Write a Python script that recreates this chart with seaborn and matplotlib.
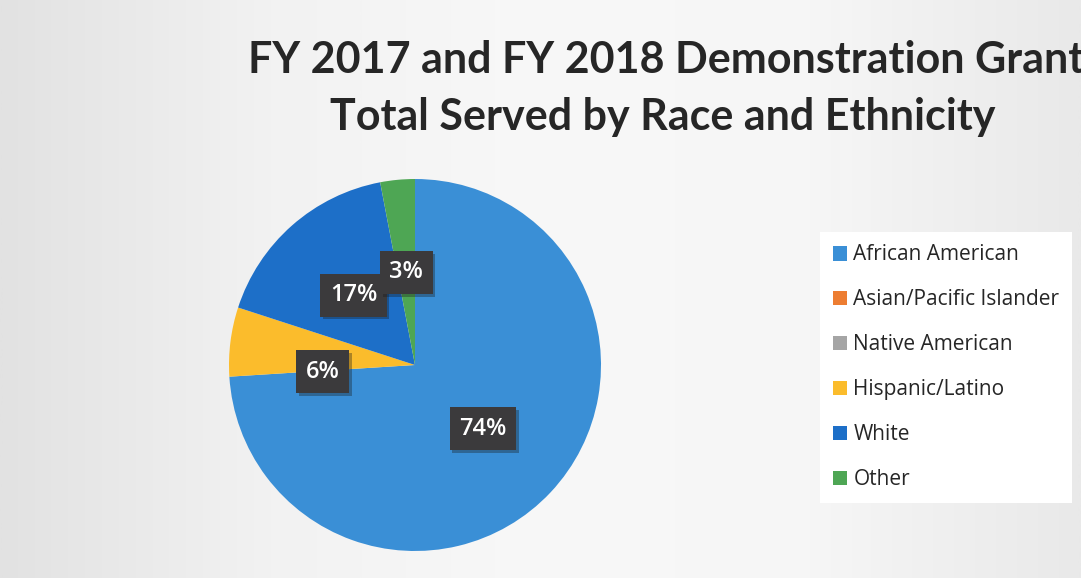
import numpy as np
import matplotlib
matplotlib.use("Agg")
import matplotlib.pyplot as plt
import matplotlib.patheffects as pe
from matplotlib.colors import LinearSegmentedColormap
import seaborn as sns

# Share of people served, by race and ethnicity (percent)
categories = ["African American", "Asian/Pacific Islander", "Native American",
              "Hispanic/Latino", "White", "Other"]
shares = [74, 0, 0, 6, 17, 3]
slice_colors = ["#3a8fd6", "#ed7d31", "#a5a5a5", "#fbbc2c", "#1d6fc8", "#4ea654"]
title_lines = ["FY 2017 and FY 2018 Demonstration Grants",
               "Total Served by Race and Ethnicity"]

sns.set_theme(style="white")
plt.rcParams["font.family"] = ["Open Sans", "DejaVu Sans"]
palette = sns.color_palette(slice_colors)

W, H = 1081, 578
fig = plt.figure(figsize=(W / 100, H / 100), dpi=100)
fig.patch.set_facecolor("#f3f3f3")

# soft paper-like backdrop, greyer toward the edges
bg = fig.add_axes([0, 0, 1, 1], zorder=-10)
grad = LinearSegmentedColormap.from_list(
    "paper", ["#e2e2e2", "#f2f2f2", "#f8f8f8", "#f6f6f6", "#e9e9e9"])
bg.imshow(np.linspace(0, 1, 512)[None, :], aspect="auto", cmap=grad,
          extent=[0, 1, 0, 1])
bg.set_axis_off()

# pie area: centre (415, 365) px, radius 186 px
cx, cy, r = 415, 365, 186
ax = fig.add_axes([(cx - r) / W, (H - cy - r) / H, 2 * r / W, 2 * r / H])


def pct_label(p):
    return f"{p:.0f}%" if p > 0.5 else ""


wedges, _, autotexts = ax.pie(
    shares, colors=palette, startangle=90, counterclock=False,
    autopct=pct_label, pctdistance=0.5, radius=1,
    wedgeprops=dict(linewidth=0),
    textprops=dict(color="white", fontsize=17, fontweight="semibold"),
)
ax.set_xlim(-1, 1)
ax.set_ylim(-1, 1)

# small nudges so the labels don't crowd each other
nudges = {"Hispanic/Latino": (0.0, -0.1)}
for name, t in zip(categories, autotexts):
    if not t.get_text():
        continue
    dx, dy = nudges.get(name, (0.0, 0.0))
    x, y = t.get_position()
    t.set_position((x + dx, y + dy))
    t.set_bbox(dict(boxstyle="square,pad=0.4", fc="#3b3a3c", ec="none"))
    t.get_bbox_patch().set_path_effects(
        [pe.withSimplePatchShadow(offset=(2, -2), shadow_rgbFace="k", alpha=0.35)])

# title
title_kw = dict(fontsize=31, fontweight="bold", color="#262626",
                family=["Lato", "DejaVu Sans"])
fig.text(248 / W, 1 - 73 / H, title_lines[0], ha="left", va="baseline", **title_kw)
fig.text(663 / W, 1 - 130 / H, title_lines[1], ha="center", va="baseline", **title_kw)

# legend
leg = fig.legend(
    wedges, categories, loc="upper left",
    bbox_to_anchor=(820 / W, 1 - 232 / H), borderaxespad=0,
    frameon=True, fancybox=False, facecolor="white", edgecolor="none",
    framealpha=1, fontsize=15, handlelength=0.7, handleheight=0.7,
    handletextpad=0.3, labelspacing=1.15, borderpad=0.6,
)
for txt in leg.get_texts():
    txt.set_color("#262626")

fig.savefig("out.png", dpi=100, facecolor=fig.get_facecolor())
